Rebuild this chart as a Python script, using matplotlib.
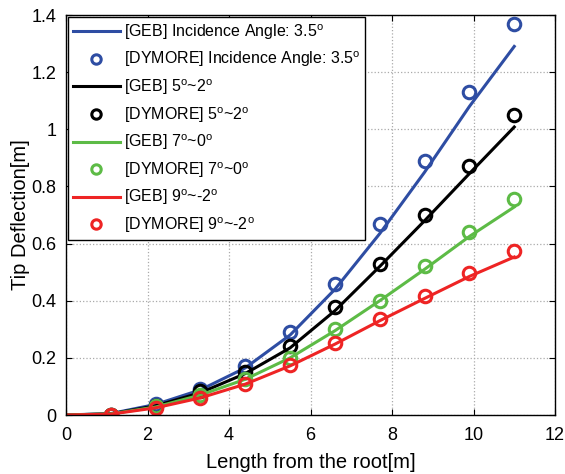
import numpy as np
import matplotlib.pyplot as plt

plt.rcParams['font.family'] = ['Liberation Sans', 'DejaVu Sans']
plt.rcParams['mathtext.fontset'] = 'custom'
plt.rcParams['mathtext.rm'] = 'Liberation Sans'

# Datos
x_geb = [0, 1.1, 2.2, 3.3, 4.4, 5.5, 6.6, 7.7, 8.8, 9.9, 11.0]
x_dym = [1.1, 2.2, 3.3, 4.4, 5.5, 6.6, 7.7, 8.8, 9.9, 11.0]

geb_35 = [0, 0.005, 0.037, 0.088, 0.165, 0.28, 0.44, 0.635, 0.85, 1.08, 1.29]
dym_35 = [0.0, 0.04, 0.09, 0.17, 0.29, 0.46, 0.67, 0.89, 1.13, 1.37]
geb_52 = [0, 0.004, 0.032, 0.078, 0.145, 0.235, 0.365, 0.52, 0.68, 0.845, 1.008]
dym_52 = [0.0, 0.03, 0.085, 0.15, 0.24, 0.378, 0.53, 0.70, 0.87, 1.05]
geb_70 = [0, 0.004, 0.028, 0.07, 0.125, 0.2, 0.295, 0.4, 0.51, 0.625, 0.728]
dym_70 = [0.0, 0.03, 0.07, 0.125, 0.20, 0.30, 0.40, 0.52, 0.64, 0.756]
geb_92 = [0, 0.003, 0.025, 0.06, 0.108, 0.172, 0.248, 0.33, 0.408, 0.485, 0.553]
dym_92 = [0.0, 0.025, 0.06, 0.108, 0.175, 0.252, 0.336, 0.416, 0.497, 0.574]

c_blue = '#2E4DA3'
c_black = '#000000'
c_green = '#5DBB46'
c_red = '#EE2424'

fig = plt.figure(figsize=(5.65, 4.74), dpi=100)
ax = fig.add_axes([66/565, 1 - 415/474, 489/565, 400/474])

mk = dict(ls='none', marker='o', ms=9, mfc='none', mew=2.2)
ax.plot(x_geb, geb_35, color=c_blue, lw=2.2, label='[GEB] Incidence Angle: 3.5$^\\mathrm{o}$')
ax.plot(x_dym, dym_35, color=c_blue, label='[DYMORE] Incidence Angle: 3.5$^\\mathrm{o}$', **mk)
ax.plot(x_geb, geb_52, color=c_black, lw=2.2, label='[GEB] 5$^\\mathrm{o}$~2$^\\mathrm{o}$')
ax.plot(x_dym, dym_52, color=c_black, label='[DYMORE] 5$^\\mathrm{o}$~2$^\\mathrm{o}$', **mk)
ax.plot(x_geb, geb_70, color=c_green, lw=2.2, label='[GEB] 7$^\\mathrm{o}$~0$^\\mathrm{o}$')
ax.plot(x_dym, dym_70, color=c_green, label='[DYMORE] 7$^\\mathrm{o}$~0$^\\mathrm{o}$', **mk)
ax.plot(x_geb, geb_92, color=c_red, lw=2.2, label='[GEB] 9$^\\mathrm{o}$~-2$^\\mathrm{o}$')
ax.plot(x_dym, dym_92, color=c_red, label='[DYMORE] 9$^\\mathrm{o}$~-2$^\\mathrm{o}$', **mk)

ax.set_xlim(0, 12)
ax.set_ylim(0, 1.4)
ax.set_xticks(np.arange(0, 13, 2))
ax.set_yticks(np.arange(0, 1.41, 0.2))
ax.set_yticklabels(['0', '0.2', '0.4', '0.6', '0.8', '1', '1.2', '1.4'])
ax.tick_params(direction='in', top=True, right=True, labelsize=13, length=4)
ax.tick_params(axis='x', pad=9)
ax.tick_params(axis='y', pad=7)
ax.grid(True, ls=':', color='#aaaaaa', lw=0.9)
ax.set_xlabel('Length from the root[m]', fontsize=14.5, labelpad=6)
ax.set_ylabel('Tip Deflection[m]', fontsize=14.5, labelpad=1)
for s in ax.spines.values():
    s.set_linewidth(1)

leg = ax.legend(loc='upper left', fontsize=11.5, handlelength=2.9, borderaxespad=0.15,
                fancybox=False, framealpha=1, edgecolor='black', labelspacing=0.5,
                handletextpad=0.25, borderpad=0.3, markerscale=0.75)
leg.get_frame().set_linewidth(1)

fig.savefig('out.png', dpi=100)
